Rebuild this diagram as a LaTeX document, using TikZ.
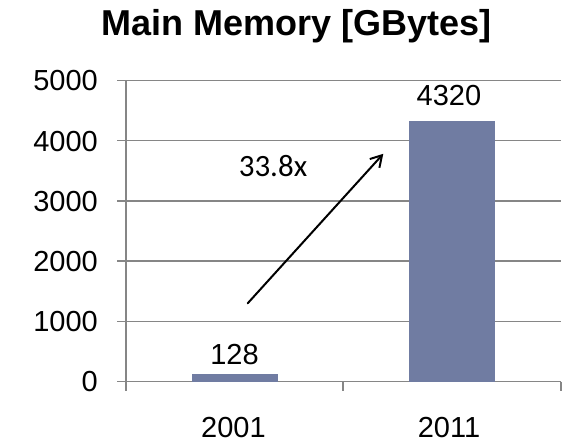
\documentclass[tikz,border=0pt]{standalone}
\usepackage{fontspec}
\setmainfont{Liberation Sans}
\newfontfamily\notefont{Carlito}
\usetikzlibrary{arrows.meta}

\definecolor{barblue}{RGB}{112,124,162}
\definecolor{gridgray}{RGB}{134,134,134}

\tikzset{
  gridline/.style={draw=gridgray, line width=1.4pt},
  bar/.style={fill=barblue},
  ticklabel/.style={anchor=base east, inner sep=0pt, font=\fontsize{29}{29}\selectfont},
  valuelabel/.style={anchor=base, inner sep=0pt, font=\fontsize{29}{29}\selectfont},
  growth/.style={line width=2pt, line cap=round, -{Straight Barb[length=11pt, width=13pt]}},
}

\begin{document}
\begin{tikzpicture}[x=1pt, y=-1pt]
        \useasboundingbox (0, 0) rectangle (568, 442);
        % title
        \node[anchor=base, inner sep=0pt, font=\fontsize{36}{36}\bfseries] (title) at (296.5, 35) {Main Memory [GBytes]};
        % grid and axes
        \draw[gridline] (117, 80.5) -- (561, 80.5);
        \draw[gridline] (117, 140.7) -- (561, 140.7);
        \draw[gridline] (117, 200.9) -- (561, 200.9);
        \draw[gridline] (117, 261.1) -- (561, 261.1);
        \draw[gridline] (117, 321.3) -- (561, 321.3);
        \draw[gridline] (117, 381.5) -- (561, 381.5);
        \draw[gridline] (126, 80.5) -- (126, 391);
        \draw[gridline] (343, 381.5) -- (343, 391);
        \draw[gridline] (561, 381.5) -- (561, 391);
        \node[ticklabel] (y5000) at (98, 90.8) {5000};
        \node[ticklabel] (y4000) at (98, 151.0) {4000};
        \node[ticklabel] (y3000) at (98, 211.2) {3000};
        \node[ticklabel] (y2000) at (98, 271.4) {2000};
        \node[ticklabel] (y1000) at (98, 331.6) {1000};
        \node[ticklabel] (y0) at (98, 391.8) {0};
        % bars
        \path[bar] (191.7, 373.8) rectangle (277.7, 381.5);
        \path[bar] (409, 121.4) rectangle (495, 381.5);
        \node[valuelabel] (v2001) at (234.5, 364) {128};
        \node[valuelabel] (v2011) at (449, 105) {4320};
        \node[valuelabel] (x2001) at (233.5, 437) {2001};
        \node[valuelabel] (x2011) at (449, 437) {2011};
        % growth
        \coordinate (tail) at (247.7, 303.3);
        \coordinate (head) at (383.3, 153.8);
        \draw[growth] (tail) -- (head);
        \node[anchor=base, inner sep=0pt, font=\fontsize{31}{31}\selectfont] (factor) at (273, 176) {\notefont 33.8x};
    \end{tikzpicture}
\end{document}
